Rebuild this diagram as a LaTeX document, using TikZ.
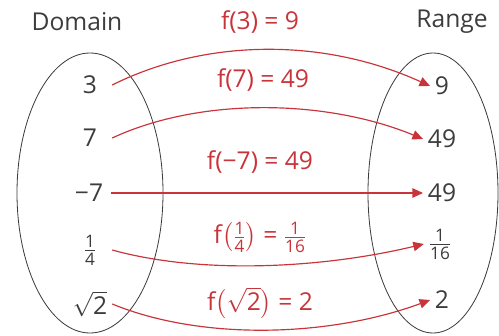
\documentclass[tikz,border=0pt]{standalone}
\usepackage{amsmath}
\usepackage{fontspec}
\setmainfont{Open Sans}
\usetikzlibrary{arrows.meta}
\definecolor{mapred}{RGB}{200,52,58}
\definecolor{setgray}{RGB}{60,60,60}

\begin{document}
\begin{tikzpicture}[x=0.03cm,y=-0.03cm,
    every node/.style={font=\fontsize{21}{24}\selectfont, text=setgray},
    dom/.style={minimum width=1.32cm, inner sep=0pt},
    ran/.style={inner xsep=4pt, inner ysep=0pt},
    maparrow/.style={draw=mapred, line width=1pt, -{Triangle[length=9pt,width=8pt]}},
    maplabel/.style={text=mapred}]
  \useasboundingbox (0,0) rectangle (499,336);

  % the two sets
  \node (domain) at (77,22) {Domain};
  \node (range) at (452,22) {Range};
  \draw[setgray, line width=0.7pt] (90,193) ellipse [x radius=73, y radius=140];
  \draw[setgray, line width=0.7pt] (433,193) ellipse [x radius=65, y radius=140];

  % domain elements
  \node[dom] (d1) at (90,85) {3};
  \node[dom] (d2) at (90,138) {7};
  \node[dom] (d3) at (89,193) {−7};
  \node[dom] (d4) at (90,250) {$\frac{\text{1}}{\text{4}}$};
  \node[dom] (d5) at (90,304) {$\sqrt{\text{2}}$};

  % range elements
  \node[ran] (r1) at (442,86) {9};
  \node[ran] (r2) at (442,139) {49};
  \node[ran] (r3) at (442,193) {49};
  \node[ran] (r4) at (440,244) {$\frac{\text{1}}{\text{16}}$};
  \node[ran] (r5) at (442,300) {2};

  % labels
  \node[maplabel] (f1) at (260,22) {f(3) = 9};
  \node[maplabel] (f2) at (263,80) {f(7) = 49};
  \node[maplabel] (f3) at (260,162) {f(−7) = 49};
  \node[maplabel] (f4) at (260,237) {f$\left(\frac{\text{1}}{\text{4}}\right)$ = $\frac{\text{1}}{\text{16}}$};
  \node[maplabel] (f5) at (260,303) {f$\bigl(\sqrt{\text{2}}\bigr)$ = 2};

  % the mapping
  \draw[maparrow] (d1.east) .. controls +(90,-45) and +(-110,-50) .. (r1.west);
  \draw[maparrow] (d2.east) .. controls +(88,-41) and +(-97,-40) .. (r2.west);
  \draw[maparrow] (d3.east) -- (r3.west);
  \draw[maparrow] (d4.east) .. controls +(90,25) and +(-100,24) .. (r4.west);
  \draw[maparrow] (d5.east) .. controls +(90,37) and +(-100,37) .. (r5.west);
\end{tikzpicture}
\end{document}
